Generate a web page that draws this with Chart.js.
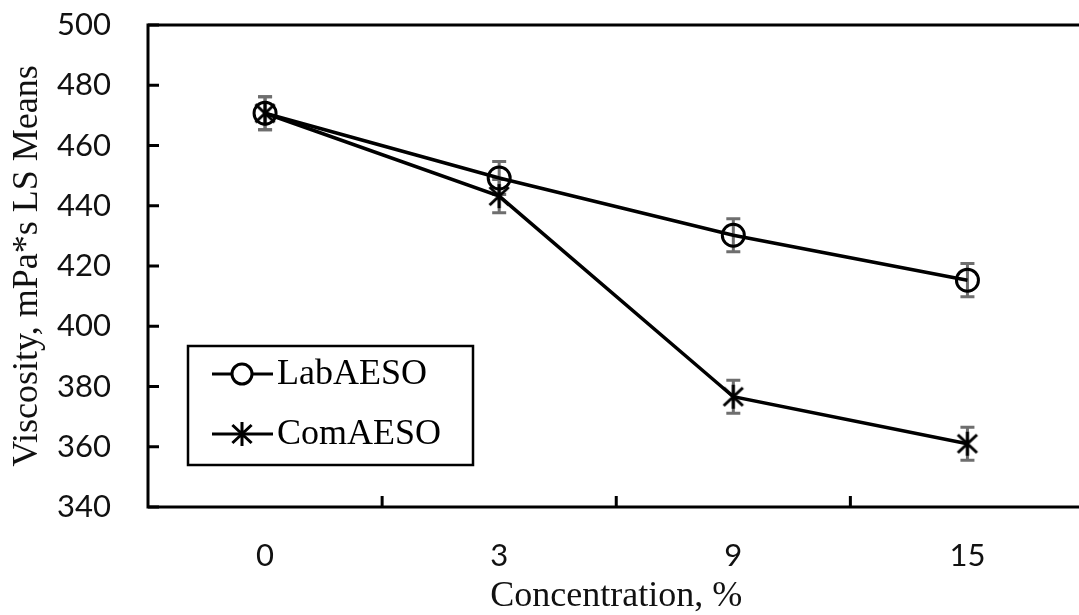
<!DOCTYPE html>
<html>
<head>
<meta charset="utf-8">
<script src="https://cdn.jsdelivr.net/npm/chart.js@4"></script>
<style>
  html, body { margin: 0; padding: 0; background: #fff; overflow: hidden; }
  #wrap { width: 1100px; height: 615px; }
</style>
</head>
<body>
<div id="wrap"><canvas id="grafico" width="1100" height="615"></canvas></div>
<script>
// --- Datos ---
const concentraciones = ["0", "3", "9", "15"];
const labAESO = [470.7, 449.2, 430.2, 415.3];
const comAESO = [470.7, 443.2, 376.6, 361.0];
const errorLab = [5.5, 5.5, 5.5, 5.5];
const errorCom = [5.5, 5.5, 5.5, 5.5];
const ticksY = [340, 360, 380, 400, 420, 440, 460, 480, 500];

const NEGRO = "#000";
const GRIS = "#6e6e6e";
const SERIF = "'Liberation Serif', 'Times New Roman', serif";

// asterisco de 6 brazos como marcador
function crearAsterisco(tam, grosor) {
    const c = document.createElement("canvas");
    c.width = tam; c.height = tam;
    const g = c.getContext("2d");
    const r = tam / 2 - 1;
    g.translate(tam / 2, tam / 2);
    g.strokeStyle = NEGRO;
    g.lineWidth = grosor;
    g.beginPath();
    g.moveTo(0, -r); g.lineTo(0, r);
    g.moveTo(-r * 0.8, -r * 0.75); g.lineTo(r * 0.8, r * 0.75);
    g.moveTo(-r * 0.8, r * 0.75); g.lineTo(r * 0.8, -r * 0.75);
    g.stroke();
    return c;
}
const asterisco = crearAsterisco(26, 3);

// --- Barras de error (debajo de los marcadores) ---
const barrasError = {
    id: "barrasError",
    beforeDatasetsDraw(chart) {
        const { ctx, scales: { x, y } } = chart;
        ctx.save();
        ctx.strokeStyle = GRIS;
        ctx.lineWidth = 3;
        [[labAESO, errorLab], [comAESO, errorCom]].forEach(([vals, errs]) => {
            vals.forEach((v, i) => {
                const px = x.getPixelForValue(i);
                const arriba = y.getPixelForValue(v + errs[i]);
                const abajo = y.getPixelForValue(v - errs[i]);
                ctx.beginPath();
                ctx.moveTo(px, arriba); ctx.lineTo(px, abajo);
                ctx.moveTo(px - 7, arriba); ctx.lineTo(px + 7, arriba);
                ctx.moveTo(px - 7, abajo); ctx.lineTo(px + 7, abajo);
                ctx.stroke();
            });
        });
        ctx.restore();
    }
};

// --- Marco del área y marcas hacia adentro ---
const marco = {
    id: "marco",
    afterDraw(chart) {
        const { ctx, chartArea: a, scales: { x, y } } = chart;
        ctx.save();
        ctx.strokeStyle = NEGRO;
        ctx.lineWidth = 3;
        ctx.strokeRect(a.left, a.top, a.right - a.left, a.bottom - a.top);
        ctx.beginPath();
        ticksY.forEach(v => {
            const py = y.getPixelForValue(v);
            ctx.moveTo(a.left, py); ctx.lineTo(a.left + 11, py);
        });
        for (let i = 1; i < concentraciones.length; i++) {
            const px = (x.getPixelForValue(i - 1) + x.getPixelForValue(i)) / 2;
            ctx.moveTo(px, a.bottom); ctx.lineTo(px, a.bottom - 11);
        }
        ctx.stroke();
        ctx.restore();
    }
};

// --- Leyenda con recuadro ---
const leyenda = {
    id: "leyenda",
    afterDraw(chart) {
        const ctx = chart.ctx;
        ctx.save();
        ctx.strokeStyle = NEGRO;
        ctx.lineWidth = 2.5;
        ctx.strokeRect(188, 346, 285, 119);
        const filas = [374, 434];
        chart.data.datasets.forEach((ds, i) => {
            const yy = filas[i];
            ctx.strokeStyle = NEGRO;
            ctx.lineWidth = 3;
            ctx.beginPath();
            ctx.moveTo(212, yy); ctx.lineTo(273, yy);
            ctx.stroke();
            if (ds.pointStyle === "circle") {
                ctx.beginPath();
                ctx.arc(242, yy, 10, 0, Math.PI * 2);
                ctx.fillStyle = "#fff";
                ctx.fill();
                ctx.stroke();
            } else {
                ctx.drawImage(asterisco, 242 - 13, yy - 13);
            }
            ctx.fillStyle = NEGRO;
            ctx.font = "36px " + SERIF;
            ctx.textBaseline = "middle";
            ctx.textAlign = "left";
            ctx.fillText(ds.label, 277, yy + 1);
        });
        ctx.restore();
    }
};

new Chart(document.getElementById("grafico"), {
    type: "line",
    data: {
        labels: concentraciones,
        datasets: [
            {
                label: "LabAESO",
                data: labAESO,
                borderColor: NEGRO,
                borderWidth: 3.5,
                pointStyle: "circle",
                pointRadius: 11,
                pointBorderWidth: 3,
                pointBorderColor: NEGRO,
                pointBackgroundColor: "rgba(0,0,0,0)",
                tension: 0
            },
            {
                label: "ComAESO",
                data: comAESO,
                borderColor: NEGRO,
                borderWidth: 3.5,
                pointStyle: asterisco,
                pointRadius: 12,
                tension: 0
            }
        ]
    },
    options: {
        responsive: false,
        animation: false,
        layout: { padding: { top: 25, right: 6, bottom: 0, left: 0 } },
        plugins: {
            legend: { display: false },
            tooltip: { enabled: false }
        },
        scales: {
            x: {
                offset: true,
                grid: { display: false, drawTicks: false },
                border: { display: false },
                ticks: {
                    color: "#111",
                    font: { family: "Lato", size: 31 },
                    padding: 30
                },
                title: {
                    display: true,
                    text: "Concentration, %",
                    color: "#111",
                    font: { family: SERIF, size: 36, lineHeight: 1 },
                    padding: { top: 0, bottom: 0 }
                },
                afterFit(scale) {
                    scale.height = 108;
                    scale.paddingLeft = 0;
                    scale.paddingRight = 0;
                }
            },
            y: {
                min: 340,
                max: 500,
                afterBuildTicks(scale) { scale.ticks = ticksY.map(v => ({ value: v })); },
                grid: { display: false, drawTicks: false },
                border: { display: false },
                ticks: {
                    color: "#111",
                    font: { family: "Lato", size: 31 },
                    padding: 37
                },
                title: {
                    display: true,
                    text: "Viscosity, mPa*s LS Means",
                    color: "#111",
                    font: { family: SERIF, size: 36, lineHeight: 1 },
                    padding: { top: 10, bottom: 0 }
                },
                afterFit(scale) {
                    scale.width = 148;
                    scale.paddingTop = 0;
                    scale.paddingBottom = 0;
                }
            }
        }
    },
    plugins: [barrasError, marco, leyenda]
});
</script>
</body>
</html>
